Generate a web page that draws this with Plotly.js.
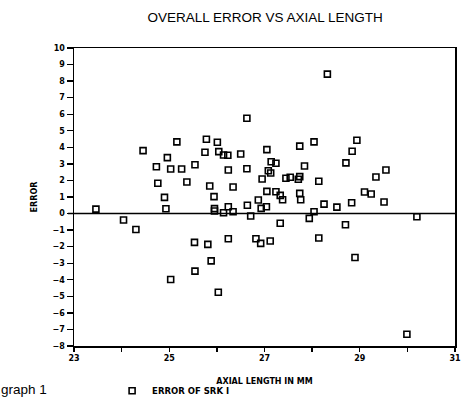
<!DOCTYPE html>
<html>
<head>
<meta charset="utf-8">
<script src="https://cdn.plot.ly/plotly-3.0.1.min.js"></script>
<style>
html,body{margin:0;padding:0;background:#fff;}
#chart{width:461px;height:399px;}
</style>
</head>
<body>
<div id="chart"></div>
<script>
// Axial length (mm) of each eye
const axialLength = [
  23.46, 24.45, 25.16, 24.96, 24.73, 25.03, 25.26, 25.54, 24.76, 25.37,
  24.90, 24.93, 24.04, 24.30, 25.53, 25.54, 25.03, 26.63, 25.78, 26.01,
  25.75, 26.04, 26.14, 26.23, 26.50, 27.05, 27.74, 28.04, 26.24, 26.63,
  27.14, 27.24, 27.08, 27.13, 27.84, 25.85, 26.34, 26.95, 27.45, 27.54,
  27.71, 27.74, 28.14, 25.94, 27.05, 27.24, 27.33, 27.38, 27.74, 27.76,
  26.87, 26.64, 26.93, 27.04, 25.95, 25.95, 26.24, 26.14, 26.34, 26.71,
  27.94, 28.04, 25.81, 25.88, 26.03, 26.24, 26.82, 26.92, 27.12, 27.33,
  28.14, 28.32, 28.94, 28.84, 28.71, 29.55, 29.34, 29.10, 29.24, 28.25,
  28.52, 28.83, 29.51, 30.20, 28.70, 28.90, 29.99
];
// Error of SRK I for each eye
const errorSRK = [
  0.27, 3.80, 4.33, 3.38, 2.83, 2.69, 2.69, 2.95, 1.83, 1.91,
  0.98, 0.29, -0.39, -0.96, -1.74, -3.48, -3.98, 5.76, 4.49, 4.31,
  3.70, 3.74, 3.54, 3.52, 3.60, 3.86, 4.07, 4.33, 2.63, 2.71,
  3.13, 3.04, 2.59, 2.45, 2.87, 1.66, 1.60, 2.09, 2.13, 2.19,
  2.07, 2.23, 1.95, 1.02, 1.34, 1.32, 1.10, 0.83, 1.22, 0.83,
  0.82, 0.50, 0.31, 0.41, 0.30, 0.15, 0.41, 0.05, 0.11, -0.15,
  -0.29, 0.11, -1.86, -2.86, -4.75, -1.52, -1.52, -1.80, -1.66, -0.59,
  -1.48, 8.42, 4.43, 3.76, 3.06, 2.63, 2.21, 1.30, 1.18, 0.57,
  0.39, 0.65, 0.70, -0.19, -0.68, -2.65, -7.29
];
const seriesName = "ERROR OF SRK I";
const chartTitle = "OVERALL ERROR VS AXIAL LENGTH";
const xTitle = "AXIAL LENGTH IN MM";
const yTitle = "ERROR";
const figureLabel = "graph 1";

const boldFont = {family: "DejaVu Sans", size: 8, color: "#000", weight: "bold"};

const trace = {
  type: "scatter",
  mode: "markers",
  x: axialLength,
  y: errorSRK,
  name: seriesName,
  showlegend: true,
  marker: {symbol: "square-open", size: 6, color: "#000", line: {width: 1.6, color: "#000"}}
};

const layout = {
  width: 461, height: 399,
  margin: {l: 74, r: 6, t: 48, b: 53, autoexpand: false},
  paper_bgcolor: "#fff", plot_bgcolor: "#fff",
  font: {family: "Arial, Liberation Sans, sans-serif", color: "#000"},
  title: {
    text: chartTitle,
    font: {family: "Liberation Sans, Arial, sans-serif", size: 13.5, color: "#000"},
    xref: "container", yref: "container",
    x: 0.575, xanchor: "center",
    y: 0.957, yanchor: "middle"
  },
  xaxis: {
    range: [23, 31],
    dtick: 2, tick0: 23,
    ticks: "outside", ticklen: 4, tickwidth: 1.3, tickcolor: "#000",
    minor: {dtick: 1, tick0: 23, ticks: "outside", ticklen: 4, tickwidth: 1.3, tickcolor: "#000"},
    showgrid: false, zeroline: false,
    showline: true, linecolor: "#000", linewidth: 1.5, mirror: true,
    tickfont: boldFont,
    automargin: false,
    title: {text: xTitle, font: boldFont, standoff: 16}
  },
  yaxis: {
    range: [-8, 10],
    dtick: 1, tick0: 0,
    ticks: "outside", ticklen: 6, tickwidth: 1.3, tickcolor: "#000",
    showgrid: false, zeroline: false,
    showline: true, linecolor: "#000", linewidth: 1.5, mirror: true,
    tickfont: boldFont,
    automargin: false,
    title: {text: yTitle, font: boldFont, standoff: 14}
  },
  shapes: [{
    type: "line", xref: "paper", yref: "y",
    x0: -0.016, x1: 1, y0: 0, y1: 0,
    line: {color: "#000", width: 1.5}
  }],
  legend: {
    x: 0.1, xanchor: "left",
    y: -0.15, yanchor: "middle",
    font: {family: "DejaVu Sans", size: 8.5, color: "#000", weight: "bold"},
    bgcolor: "rgba(0,0,0,0)", borderwidth: 0,
    itemwidth: 30
  },
  annotations: [{
    text: figureLabel,
    xref: "paper", yref: "paper",
    x: -0.198, xanchor: "left",
    y: -0.145, yanchor: "middle",
    showarrow: false,
    font: {family: "Liberation Sans, Arial, sans-serif", size: 13.5, color: "#000"}
  }]
};

Plotly.newPlot("chart", [trace], layout, {displayModeBar: false, staticPlot: true});
</script>
</body>
</html>
